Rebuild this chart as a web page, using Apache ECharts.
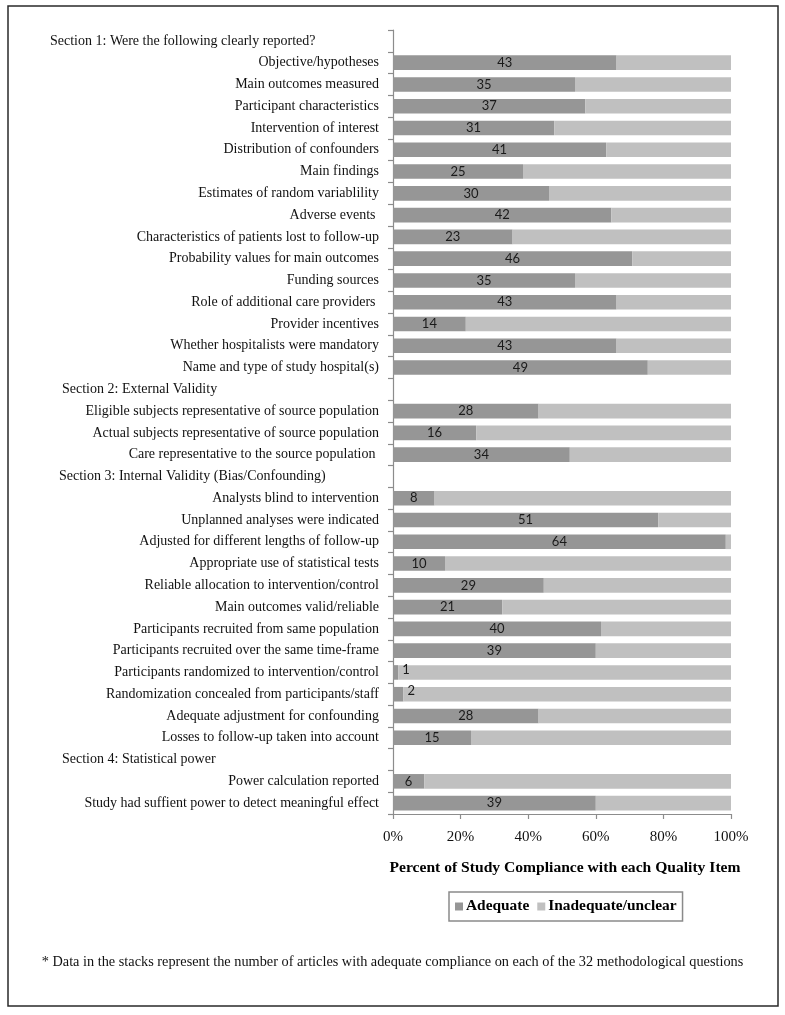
<!DOCTYPE html>
<html>
<head>
<meta charset="utf-8">
<script src="https://cdn.jsdelivr.net/npm/echarts@6/dist/echarts.min.js"></script>
<style>
html,body{margin:0;padding:0;background:#fff;}
#chart{width:785px;height:1015px;}
</style>
</head>
<body>
<div id="chart"></div>
<script>
// ---- Data ----
const categories = [
  "Section 1: Were the following clearly reported?",
  "Objective/hypotheses",
  "Main outcomes measured",
  "Participant characteristics",
  "Intervention of interest",
  "Distribution of confounders",
  "Main findings",
  "Estimates of random variablility",
  "Adverse events ",
  "Characteristics of patients lost to follow-up",
  "Probability values for main outcomes",
  "Funding sources",
  "Role of additional care providers ",
  "Provider incentives",
  "Whether hospitalists were mandatory",
  "Name and type of study hospital(s)",
  "Section 2: External Validity",
  "Eligible subjects representative of source population",
  "Actual subjects representative of source population",
  "Care representative to the source population ",
  "Section 3: Internal Validity (Bias/Confounding)",
  "Analysts blind to intervention",
  "Unplanned analyses were indicated",
  "Adjusted for different lengths of follow-up",
  "Appropriate use of statistical tests",
  "Reliable allocation to intervention/control",
  "Main outcomes valid/reliable",
  "Participants recruited from same population",
  "Participants recruited over the same time-frame",
  "Participants randomized to intervention/control",
  "Randomization concealed from participants/staff",
  "Adequate adjustment for confounding",
  "Losses to follow-up taken into account",
  "Section 4: Statistical power",
  "Power calculation reported",
  "Study had suffient power to detect meaningful effect"
];
// number of articles with adequate compliance (null = section header row)
const adequateCounts = [
  null, 43, 35, 37, 31, 41, 25, 30, 42, 23, 46, 35, 43, 14, 43, 49,
  null, 28, 16, 34,
  null, 8, 51, 64, 10, 29, 21, 40, 39, 1, 2, 28, 15,
  null, 6, 39
];
const totalArticles = 65;
const xTicks = [0, 20, 40, 60, 80, 100];
const seriesNames = ["Adequate", "Inadequate/unclear"];
const axisTitle = "Percent of Study Compliance with each Quality Item";
const footnote = "* Data in the stacks represent the number of articles with adequate compliance on each of the 32 methodological questions";

// ---- Build ----
const serif = "'Liberation Serif', 'Times New Roman', serif";
const headerStyle = {"Section 1": "h1", "Section 2": "h2", "Section 3": "h3", "Section 4": "h4"};

const adequateData = adequateCounts.map(c => {
  if (c === null) return '-';
  const item = { value: c / totalArticles * 100, count: c };
  if (c < 3) {
    item.label = { position: 'right', distance: 4, offset: [0, -3] };
  }
  return item;
});
const inadequateData = adequateCounts.map(c => c === null ? '-' : (totalArticles - c) / totalArticles * 100);

const chart = echarts.init(document.getElementById('chart'), null, { renderer: 'canvas' });
const option = {
  backgroundColor: '#fff',
  animation: false,
  title: {
    text: footnote,
    left: 'center',
    top: 950,
    textStyle: { fontFamily: serif, fontSize: 14.3, fontWeight: 'normal', color: '#111' }
  },
  legend: {
    data: seriesNames,
    left: 449,
    top: 892,
    icon: 'rect',
    itemWidth: 8,
    itemHeight: 8,
    itemGap: 8,
    padding: [7, 6, 7, 6],
    borderColor: '#8a8a8a',
    borderWidth: 1.5,
    textStyle: { fontFamily: serif, fontSize: 15.4, fontWeight: 'bold', color: '#000', padding: [0, 0, 0, -2] }
  },
  grid: { left: 393, right: 54, top: 30, bottom: 201, containLabel: false },
  xAxis: {
    type: 'value',
    min: 0, max: 100, interval: 20,
    name: axisTitle,
    nameLocation: 'middle',
    nameGap: 46,
    nameTextStyle: { fontFamily: serif, fontSize: 15.6, fontWeight: 'bold', color: '#000', padding: [0, 0, 0, 6] },
    axisLine: { show: true, lineStyle: { color: '#8c8c8c', width: 1.2 } },
    axisTick: { show: true, length: 5, lineStyle: { color: '#8c8c8c', width: 1.2 } },
    splitLine: { show: false },
    axisLabel: {
      margin: 16,
      fontFamily: serif, fontSize: 15, color: '#111',
      formatter: v => xTicks.includes(v) ? v + '%' : ''
    }
  },
  yAxis: {
    type: 'category',
    data: categories,
    inverse: true,
    axisLine: { show: true, lineStyle: { color: '#8c8c8c', width: 1.2 } },
    axisTick: { show: true, length: 5, lineStyle: { color: '#8c8c8c', width: 1.2 } },
    axisLabel: {
      margin: 14,
      interval: 0,
      fontFamily: serif, fontSize: 14, color: '#111',
      formatter: function (v) {
        const key = v.slice(0, 9);
        if (headerStyle[key]) return '{' + headerStyle[key] + '|' + v + '}';
        return v;
      },
      rich: {
        h1: { width: 329, align: 'left', fontFamily: serif, fontSize: 14, color: '#111' },
        h2: { width: 317, align: 'left', fontFamily: serif, fontSize: 14, color: '#111' },
        h3: { width: 320, align: 'left', fontFamily: serif, fontSize: 14, color: '#111' },
        h4: { width: 317, align: 'left', fontFamily: serif, fontSize: 14, color: '#111' }
      }
    }
  },
  series: [
    {
      name: seriesNames[0],
      type: 'bar',
      stack: 'total',
      barCategoryGap: '33%',
      itemStyle: { color: '#969696' },
      label: {
        show: true,
        position: 'inside',
        fontFamily: "Lato, 'Open Sans', sans-serif",
        fontSize: 13,
        color: '#1a1a1a',
        formatter: p => p.data.count
      },
      data: adequateData
    },
    {
      name: seriesNames[1],
      type: 'bar',
      stack: 'total',
      barCategoryGap: '33%',
      itemStyle: { color: '#c0c0c0' },
      data: inadequateData
    }
  ],
  graphic: [
    {
      type: 'rect',
      shape: { x: 8, y: 6, width: 770, height: 1000 },
      style: { fill: 'none', stroke: '#2a2a2a', lineWidth: 1.5 },
      silent: true,
      z: 100
    }
  ]
};
chart.setOption(option);
</script>
</body>
</html>
